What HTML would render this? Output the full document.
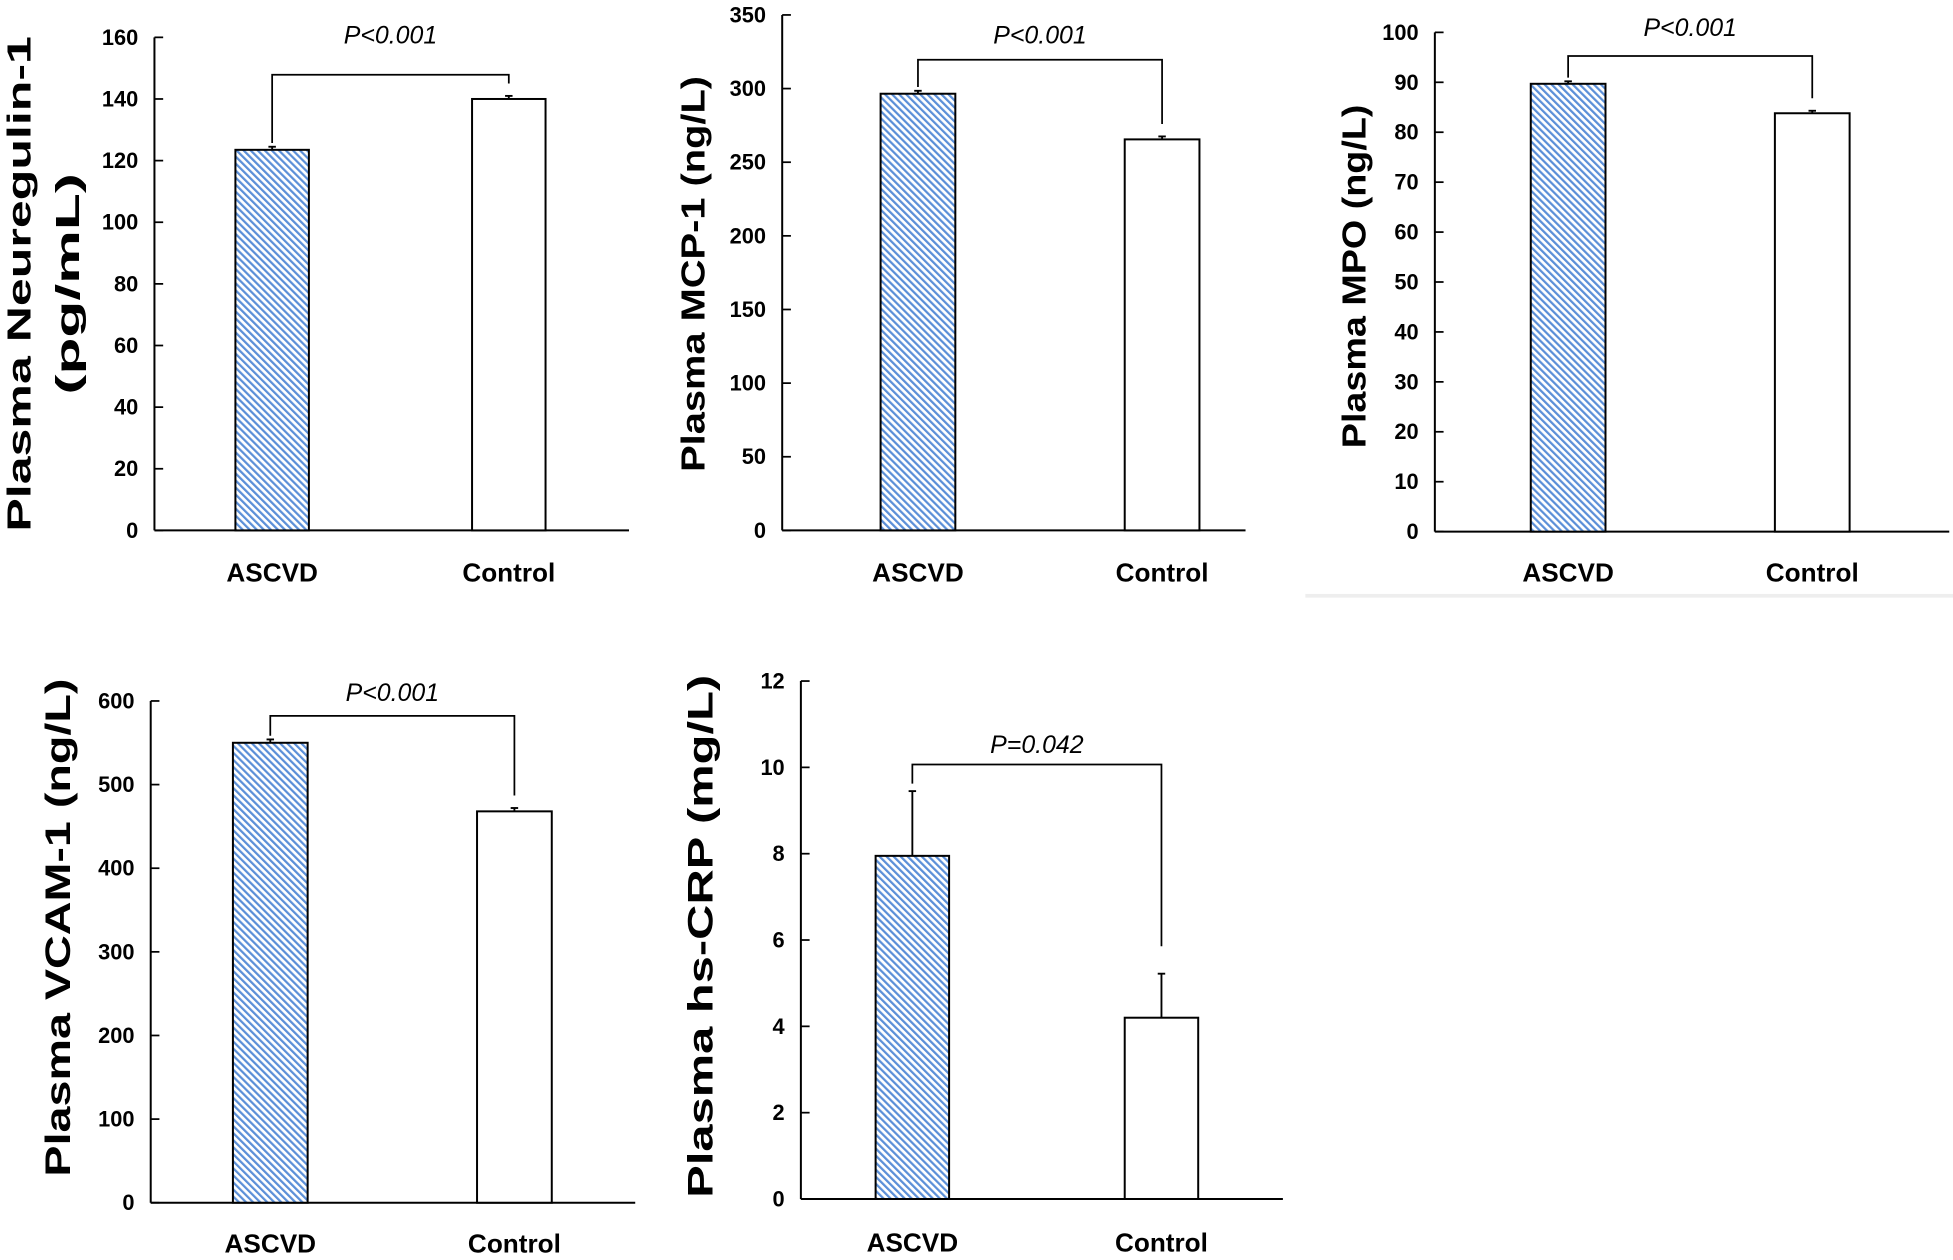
<!DOCTYPE html>
<html><head><meta charset="utf-8"><style>
html,body{margin:0;padding:0;background:#fff;}
svg{display:block;}
text{font-family:"Liberation Sans",Arial,sans-serif;}
</style></head><body>
<svg id="chart" width="1953" height="1260" viewBox="0 0 1568 1012" preserveAspectRatio="none" xmlns="http://www.w3.org/2000/svg">
<defs>
<pattern id="hatch" patternUnits="userSpaceOnUse" width="4" height="4" patternTransform="rotate(-45)">
<rect width="4" height="4" fill="#ffffff"/>
<rect x="0" y="0" width="1.8" height="4" fill="#5b8fd8"/>
</pattern>
</defs>
<rect x="1048" y="477" width="520" height="3" fill="#eeeeee"/>
<g id="root"></g>
</svg>
<script>
// Shared categories
const categories = ["ASCVD", "Control"];
// Panel data
const nrgValues = [123.5, 140.0];
const nrgErrors = [1.0, 1.0];
const nrgTicks = [0, 20, 40, 60, 80, 100, 120, 140, 160];
const mcpValues = [296.5, 265.5];
const mcpErrors = [2.0, 2.0];
const mcpTicks = [0, 50, 100, 150, 200, 250, 300, 350];
const mpoValues = [89.7, 83.8];
const mpoErrors = [0.5, 0.5];
const mpoTicks = [0, 10, 20, 30, 40, 50, 60, 70, 80, 90, 100];
const vcamValues = [550, 468];
const vcamErrors = [4, 4];
const vcamTicks = [0, 100, 200, 300, 400, 500, 600];
const crpValues = [7.95, 4.2];
const crpErrors = [1.5, 1.02];
const crpTicks = [0, 2, 4, 6, 8, 10, 12];
const pLabels = ["P<0.001", "P<0.001", "P<0.001", "P<0.001", "P=0.042"];
const titles = [["Plasma Neuregulin-1", "(pg/mL)"], ["Plasma MCP-1 (ng/L)"], ["Plasma MPO (ng/L)"], ["Plasma VCAM-1 (ng/L)"], ["Plasma hs-CRP (mg/L)"]];

// Layout (display coordinates)
const layouts = [
  {key:"neuregulin", vals:nrgValues, errs:nrgErrors, ticks:nrgTicks, ax:124, y0:426, yTop:30, xEnd:505, bars:[189,379], bw:59, brY:60, pY:28, titleX:[16,55], titleY:228, titleLen:[398,178], labY:467, titleFs:27},
  {key:"mcp1", vals:mcpValues, errs:mcpErrors, ticks:mcpTicks, ax:628, y0:426, yTop:12, xEnd:1000, bars:[707,903], bw:60, brY:48, pY:28, titleX:[557], titleY:220, titleLen:[318], labY:467, titleFs:27},
  {key:"mpo", vals:mpoValues, errs:mpoErrors, ticks:mpoTicks, ax:1152, y0:427, yTop:26, xEnd:1565, bars:[1229,1425], bw:60, brY:45, pY:22, titleX:[1088], titleY:222, titleLen:[276], labY:467, titleFs:27},
  {key:"vcam1", vals:vcamValues, errs:vcamErrors, ticks:vcamTicks, ax:121, y0:966, yTop:563, xEnd:510, bars:[187,383], bw:60, brY:575, pY:556, titleX:[47], titleY:745, titleLen:[400], labY:1006, titleFs:28},
  {key:"hscrp", vals:crpValues, errs:crpErrors, ticks:crpTicks, ax:643, y0:963, yTop:547, xEnd:1030, bars:[703,903], bw:59, brY:614, pY:598, titleX:[563], titleY:752, titleLen:[420], labY:1005, titleFs:28}
];

const NS = "http://www.w3.org/2000/svg";
const root = document.getElementById("root");
function mk(tag, attrs, parent){
  const e = document.createElementNS(NS, tag);
  for (const k in attrs) e.setAttribute(k, attrs[k]);
  (parent||root).appendChild(e);
  return e;
}

layouts.forEach((L, i) => {
  const g = mk("g", {});
  
  
  const maxT = L.ticks[L.ticks.length-1];
  const yScale = v => L.y0 - (v / maxT) * (L.y0 - L.yTop);
  const xCenter = j => L.bars[j] + L.bw/2;

  const yAxis = mk("line", {x1:L.ax, y1:L.yTop, x2:L.ax, y2:L.y0, stroke:"#000", "stroke-width":1.6}, g);
  
  
  const xAxis = mk("line", {x1:L.ax, y1:L.y0, x2:L.xEnd, y2:L.y0, stroke:"#000", "stroke-width":1.6}, g);
  
  

  L.ticks.forEach(t => {
    const y = yScale(t);
    mk("line", {x1:L.ax, y1:y, x2:L.ax+7, y2:y, stroke:"#000", "stroke-width":1.4}, g);
    const tl = mk("text", {x:L.ax-13, y:y+6, "text-anchor":"end", "font-size":17.5, "font-weight":"bold"}, g);
    tl.textContent = t;
    
    
  });

  L.vals.forEach((v, j) => {
    const y = yScale(v);
    const b = mk("rect", {x:L.bars[j], y:y, width:L.bw, height:L.y0 - y, fill: j===0 ? "url(#hatch)" : "#fff", stroke:"#000", "stroke-width":1.6}, g);
    
    
    const ye = yScale(v + L.errs[j]);
    const e1 = mk("line", {x1:xCenter(j), y1:y, x2:xCenter(j), y2:ye, stroke:"#000", "stroke-width":1.5}, g);
    
    
    mk("line", {x1:xCenter(j)-3, y1:ye, x2:xCenter(j)+3, y2:ye, stroke:"#000", "stroke-width":1.5}, g);
    const lab = mk("text", {x:xCenter(j), y:L.labY, "text-anchor":"middle", "font-size":21, "font-weight":"bold"}, g);
    lab.textContent = categories[j];
    
    
  });

  const gap = 10;
  const lb = i === 4 ? yScale(L.vals[0] + L.errs[0]) - 6 : yScale(L.vals[0] + L.errs[0]) - 3;
  const rb = i === 4 ? L.brY + 146 : yScale(L.vals[1] + L.errs[1]) - gap;
  const br = mk("path", {d:`M${xCenter(0)},${lb} V${L.brY} H${xCenter(1)} V${rb}`, fill:"none", stroke:"#000", "stroke-width":1.4}, g);
  
  
  const p = mk("text", {x:(xCenter(0)+xCenter(1))/2, y:L.pY + 7, "text-anchor":"middle", "font-size":20, "font-style":"italic"}, g);
  p.textContent = pLabels[i];
  
  

  titles[i].forEach((t, k) => {
    const tx = L.titleX[k];
    const tt = mk("text", {x:0, y:0, transform:`translate(${tx},${L.titleY}) rotate(-90)`, "text-anchor":"middle", "dominant-baseline":"central", "font-size":L.titleFs, "font-weight":"bold", textLength:L.titleLen[k], lengthAdjust:"spacingAndGlyphs"}, g);
    tt.textContent = t;
    
    
  });
});
</script>
</body></html>
